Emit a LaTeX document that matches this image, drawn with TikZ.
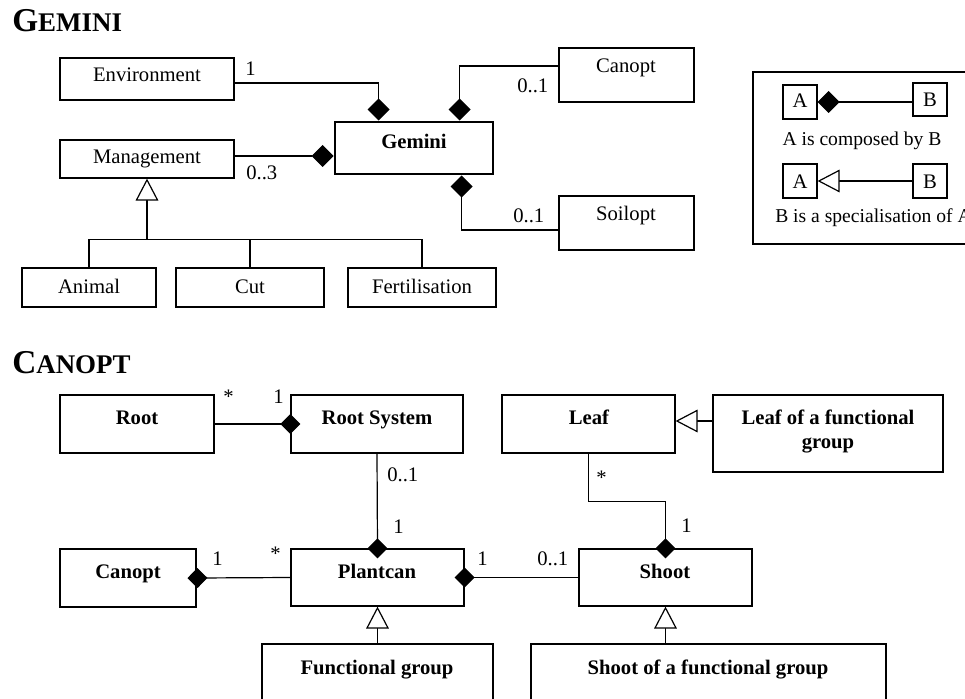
\documentclass[tikz,border=0pt]{standalone}
\usepackage{fontspec}
\setmainfont{Liberation Serif}
\usetikzlibrary{arrows.meta,fit,calc}
\begin{document}
\begin{tikzpicture}[x=0.75pt,y=-0.75pt,
  box/.style={draw, line width=0.9pt, inner sep=0pt, rectangle},
  tbox/.style={draw, line width=2.2pt, inner sep=0pt, rectangle},
  txt/.style={anchor=base, inner sep=0pt, font=\fontsize{15.5}{18}\selectfont},
  btxt/.style={anchor=base, inner sep=0pt, font=\fontsize{15.5}{18}\selectfont\bfseries},
  mult/.style={anchor=base west, inner sep=0pt, font=\fontsize{15.5}{18}\selectfont},
  legtxt/.style={inner sep=0pt, font=\fontsize{14.7}{17}\selectfont},
  conn/.style={line width=0.9pt},
  compG/.style={conn, -{Diamond[length=16.5pt,width=16.5pt]}},
  compC/.style={conn, -{Diamond[length=15pt,width=15pt]}, shorten >=-7.5pt},
  gen/.style={conn, -{Triangle[open,length=16.5pt,width=17pt,fill=white]}},
  ttl/.style={anchor=base west, inner sep=0pt, font=\bfseries},
]
\clip (0,0) rectangle (965,699);
\fill[white] (0,0) rectangle (965,699);

% ---------------- GEMINI ----------------
\node[ttl] (t1) at (12,32) {{\fontsize{25}{28}\selectfont G}{\fontsize{20.2}{22}\selectfont EMINI}};

\node[box, fit={(60,58) (234,100)}] (env) {};
\node[txt] (envT) at (147,82) {Environment};
\node[box, fit={(60,140) (234,178)}] (mgmt) {};
\node[txt] (mgmtT) at (147,164) {Management};
\node[tbox, fit={(335,122) (493,174)}] (gem) {};
\node[btxt] (gemT) at (414,148) {Gemini};
\node[tbox, fit={(559,48) (694,102)}] (can) {};
\node[txt] (canT) at (626,73) {Canopt};
\node[tbox, fit={(559,196) (694,250)}] (soil) {};
\node[txt] (soilT) at (626,220) {Soilopt};
\node[box, fit={(22,268) (156,307)}] (ani) {};
\node[txt] (aniT) at (89,293) {Animal};
\node[box, fit={(176,268) (324,307)}] (cut) {};
\node[txt] (cutT) at (250,293) {Cut};
\node[box, fit={(348,268) (496,307)}] (fert) {};
\node[txt] (fertT) at (422,293) {Fertilisation};

\draw[compG] ($(env.east)+(0,4)$) -| ($(gem.north west)+(45,0)$);
\path ($(mgmt.east)+(0,-3)$) coordinate (m1);
\draw[compG] (m1) -- (m1 -| gem.west);
\draw[compG] ($(can.west)+(0,-9)$) -| ($(gem.north west)+(126,0)$);
\draw[compG] ($(soil.west)+(0,7)$) -| ($(gem.south west)+(128,0)$);

\path ($(ani.north)+(0,-28)$) coordinate (tj);
\draw[conn] (ani.north) -- (tj) -- (tj -| fert.north) -- (fert.north);
\draw[conn] (cut.north) -- (cut.north |- tj);
\draw[gen] (mgmt.south |- tj) -- (mgmt.south);

\node[mult] (l1) at (245,76) {1};
\node[mult] (l2) at (246,180) {0..3};
\node[mult] (l3) at (517,93) {0..1};
\node[mult] (l4) at (513,222) {0..1};

% legend
\node[box, fit={(753,72) (985,244)}] (leg) {};
\node[box, fit={(783,85) (817,119)}] (a1) {};
\node[txt] (a1T) at (800,108) {A};
\node[box, fit={(913,83) (947,116)}] (b1) {};
\node[txt] (b1T) at (930,107) {B};
\draw[compG] (b1.west |- a1.east) -- (a1.east);
\node[legtxt, anchor=base] (lg1) at (862,146) {A is composed by B};
\node[box, fit={(783,164) (817,198)}] (a2) {};
\node[txt] (a2T) at (800,188) {A};
\node[box, fit={(913,164) (947,198)}] (b2) {};
\node[txt] (b2T) at (930,188) {B};
\draw[gen] (b2.west) -- (a2.east);
\node[legtxt, anchor=base west] (lg2) at (775,223) {B is a specialisation of A};

% ---------------- CANOPT ----------------
\node[ttl] (t2) at (12,373) {{\fontsize{25}{28}\selectfont C}{\fontsize{20.2}{22}\selectfont ANOPT}};

\node[box, fit={(60,395) (214,453)}] (root) {};
\node[btxt] (rootT) at (137,424) {Root};
\node[box, fit={(291,395) (463,453)}] (rs) {};
\node[btxt] (rsT) at (377,424) {Root System};
\node[box, fit={(502,395) (675,453)}] (leaf) {};
\node[btxt] (leafT) at (589,424) {Leaf};
\node[box, fit={(713,395) (943,472)}] (lfg) {};
\node[btxt] (lfgT1) at (828,424) {Leaf of a functional};
\node[btxt] (lfgT2) at (828,448) {group};
\node[tbox, fit={(60,549) (196,607)}] (c2) {};
\node[btxt] (c2T) at (128,578) {Canopt};
\node[box, fit={(291,549) (464,606)}] (pc) {};
\node[btxt] (pcT) at (377,578) {Plantcan};
\node[box, fit={(579,549) (752,606)}] (sh) {};
\node[btxt] (shT) at (665,578) {Shoot};
\node[box, fit={(262,644) (493,730)}] (fg) {};
\node[btxt] (fgT) at (377,674) {Functional group};
\node[box, fit={(531,644) (886,730)}] (sfg) {};
\node[btxt] (sfgT) at (708,674) {Shoot of a functional group};

\draw[compC] (root.east) -- (rs.west);
\draw[compC] (rs.south) -- (pc.north);
\draw[compC] (pc.west) -- (c2.east);
\draw[compC] (sh.west) -- (pc.east);
\draw[compC] (leaf.south) -- ++(0,48) -| (sh.north);
\draw[gen] (lfg.west |- 0,421) -- (leaf.east |- 0,421);
\draw[gen] (fg.north) -- (pc.south);
\draw[gen] (sh.south |- sfg.north) -- (sh.south);

\node[mult] (m2) at (223,403) {*};
\node[mult] (m3) at (273,403) {1};
\node[mult] (m4) at (387,481) {0..1};
\node[mult] (m5) at (393,533) {1};
\node[mult] (m6) at (212,565) {1};
\node[mult] (m7) at (270,560) {*};
\node[mult] (m8) at (477,565) {1};
\node[mult] (m9) at (596,484) {*};
\node[mult] (m10) at (681,532) {1};
\node[mult] (m11) at (537,565) {0..1};
\end{tikzpicture}
\end{document}
